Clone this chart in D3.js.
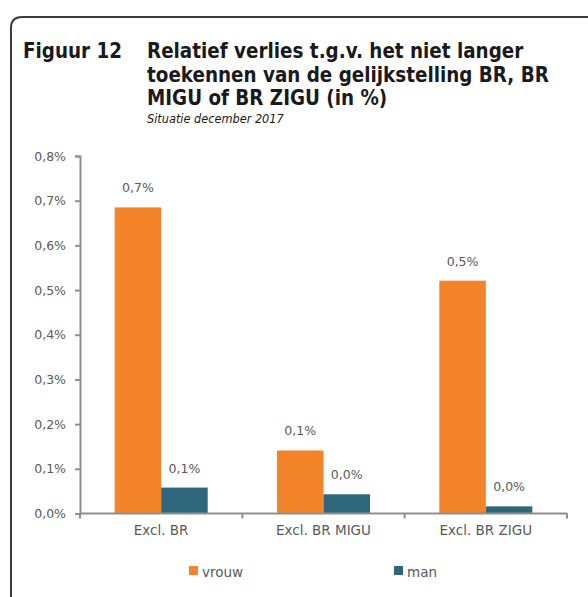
<!DOCTYPE html>
<html>
<head>
<meta charset="utf-8">
<script src="https://cdn.jsdelivr.net/npm/d3@7"></script>
<style>
  body { margin: 0; background: #fff; }
  svg { display: block; }
</style>
</head>
<body>
<div id="chart"></div>
<script>
// chart data
const categories = ["Excl. BR", "Excl. BR MIGU", "Excl. BR ZIGU"];
const seriesNames = ["vrouw", "man"];
const vrouw = [0.685, 0.141, 0.521];
const man = [0.058, 0.043, 0.016];
const vrouwLabels = ["0,7%", "0,1%", "0,5%"];
const manLabels = ["0,1%", "0,0%", "0,0%"];
const yTicks = [0, 0.1, 0.2, 0.3, 0.4, 0.5, 0.6, 0.7, 0.8];

const colors = { vrouw: "#f4842a", man: "#2e677b" };
const textGray = "#595959";
const axisGray = "#8f8f8f";
const smallFont = "'DejaVu Sans', sans-serif";
const titleFont = "'DejaVu Sans Condensed', 'DejaVu Sans', sans-serif";

const width = 588, height = 597;
const svg = d3.select("#chart").append("svg")
    .attr("width", width)
    .attr("height", height);

// frame with rounded corner
svg.append("path")
    .attr("d", "M11,620 L11,28 Q11,17 22,17 L620,17")
    .attr("fill", "none")
    .attr("stroke", "#3c3c3c")
    .attr("stroke-width", 2);

// title block
const title = svg.append("g")
    .style("font-family", titleFont)
    .style("font-weight", "bold")
    .style("font-size", "20.4px")
    .attr("fill", "#1a1a1a");
title.append("text").attr("x", 23).attr("y", 58).text("Figuur 12");
const titleLines = ["Relatief verlies t.g.v. het niet langer",
                    "toekennen van de gelijkstelling BR, BR",
                    "MIGU of BR ZIGU (in %)"];
titleLines.forEach((t, i) => {
    title.append("text").attr("x", 147).attr("y", 58 + i * 23.5).text(t);
});
svg.append("text")
    .attr("x", 147).attr("y", 123)
    .style("font-family", titleFont)
    .style("font-style", "italic")
    .style("font-size", "12.6px")
    .attr("fill", "#1a1a1a")
    .text("Situatie december 2017");

// scales
const x0 = d3.scaleBand()
    .domain(categories)
    .range([80, 567])
    .paddingInner(0.427)
    .paddingOuter(0.2135);
const x1 = d3.scaleBand()
    .domain(seriesNames)
    .range([0, x0.bandwidth()]);
const y = d3.scaleLinear()
    .domain([0, 0.8])
    .range([513.5, 156]);

const fmt = d => d3.format(".1f")(d).replace(".", ",") + "%";

// y axis
const yAxis = svg.append("g")
    .attr("transform", "translate(80,0)")
    .call(d3.axisLeft(y).tickValues(yTicks).tickFormat(fmt).tickSize(5).tickPadding(9));
yAxis.select(".domain").attr("stroke", axisGray).attr("stroke-width", 2);
yAxis.selectAll(".tick line").attr("stroke", axisGray).attr("stroke-width", 2);
yAxis.selectAll(".tick text")
    .attr("fill", textGray)
    .style("font-family", smallFont)
    .style("font-size", "12.5px");

// bars
const rows = categories.map((c, i) => ({
    cat: c,
    values: [
        { key: "vrouw", value: vrouw[i], label: vrouwLabels[i] },
        { key: "man", value: man[i], label: manLabels[i] }
    ]
}));

const groups = svg.selectAll("g.grp")
    .data(rows)
    .enter().append("g")
    .attr("class", "grp")
    .attr("transform", d => `translate(${x0(d.cat)},0)`);

groups.selectAll("rect")
    .data(d => d.values)
    .enter().append("rect")
    .attr("x", d => x1(d.key))
    .attr("width", x1.bandwidth())
    .attr("y", d => y(d.value))
    .attr("height", d => y(0) - y(d.value))
    .attr("fill", d => colors[d.key]);

groups.selectAll("text.val")
    .data(d => d.values)
    .enter().append("text")
    .attr("class", "val")
    .attr("x", d => x1(d.key) + x1.bandwidth() / 2)
    .attr("y", d => y(d.value) - 15)
    .attr("text-anchor", "middle")
    .attr("fill", textGray)
    .style("font-family", smallFont)
    .style("font-size", "12.5px")
    .text(d => d.label);

// x axis
const xAxisG = svg.append("g");
xAxisG.append("line")
    .attr("x1", 80).attr("x2", 567.5)
    .attr("y1", y(0)).attr("y2", y(0))
    .attr("stroke", axisGray).attr("stroke-width", 2);
const boundaries = [80].concat(categories.map(c => x0(c) + x0.bandwidth() + x0.step() * x0.paddingInner() / 2));
boundaries[boundaries.length - 1] = 567;
xAxisG.selectAll("line.tk")
    .data(boundaries)
    .enter().append("line")
    .attr("class", "tk")
    .attr("x1", d => d).attr("x2", d => d)
    .attr("y1", y(0)).attr("y2", y(0) + 5)
    .attr("stroke", axisGray).attr("stroke-width", 2);
xAxisG.selectAll("text")
    .data(categories)
    .enter().append("text")
    .attr("x", d => x0(d) + x0.bandwidth() / 2)
    .attr("y", 535)
    .attr("text-anchor", "middle")
    .attr("fill", textGray)
    .style("font-family", smallFont)
    .style("font-size", "13.5px")
    .text(d => d);

// legend
const legendX = [189, 394];
const legend = svg.selectAll("g.leg")
    .data(seriesNames)
    .enter().append("g")
    .attr("class", "leg")
    .attr("transform", (d, i) => `translate(${legendX[i]},566)`);
legend.append("rect")
    .attr("width", 9).attr("height", 9)
    .attr("fill", d => colors[d]);
legend.append("text")
    .attr("x", 13).attr("y", 11)
    .attr("fill", textGray)
    .style("font-family", smallFont)
    .style("font-size", "13.5px")
    .text(d => d);
</script>
</body>
</html>
